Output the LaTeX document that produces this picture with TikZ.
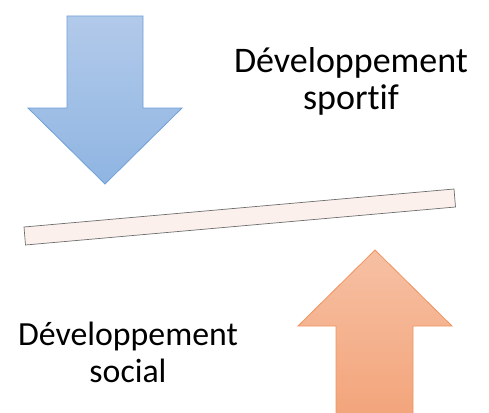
\documentclass[tikz,border=0pt]{standalone}
\usepackage{fontspec}
\setmainfont{Carlito}[Ligatures={NoCommon}]
\begin{document}
\begin{tikzpicture}[x=1pt,y=-1pt,
  bluearrow/.style={top color=arrowbluetop, bottom color=arrowbluebot, draw=arrowblueline, line width=0.8pt, line join=miter},
  orangearrow/.style={top color=arroworangetop, bottom color=arroworangebot, draw=arroworangeline, line width=0.8pt, line join=miter},
  beam/.style={fill=beamfill, draw=beamline, line width=0.7pt},
  label/.style={inner sep=0pt, align=center, text=black}]
\definecolor{arrowbluetop}{RGB}{178,202,234}
\definecolor{arrowbluebot}{RGB}{143,181,226}
\definecolor{arrowblueline}{RGB}{112,160,216}
\definecolor{arroworangetop}{RGB}{246,192,163}
\definecolor{arroworangebot}{RGB}{243,164,122}
\definecolor{arroworangeline}{RGB}{240,148,96}
\definecolor{beamfill}{RGB}{251,240,236}
\definecolor{beamline}{RGB}{110,110,110}
\useasboundingbox (0,0) rectangle (489,412);
% blue arrow
\path[bluearrow] (67,16) -- (143,16) -- (143,108) -- (182,108) -- (105,184) -- (28,108) -- (67,108) -- cycle;
% orange arrow
\begin{scope}
\clip (0,0) rectangle (489,412);
\path[orangearrow] (375,250) -- (452,326) -- (413,326) -- (413,420) -- (336,420) -- (336,326) -- (298,326) -- cycle;
\end{scope}
% beam
\path[beam] (24,227) -- (454,189) -- (455.5,207) -- (25.5,245) -- cycle;
% labels
\node[label, font=\fontsize{36}{37}\selectfont, anchor=base] (sport) at (351,109) {Développement\\sportif};
\node[label, font=\fontsize{33.8}{37}\selectfont, anchor=base] (social) at (128,382) {Développement\\social};
\end{tikzpicture}
\end{document}
